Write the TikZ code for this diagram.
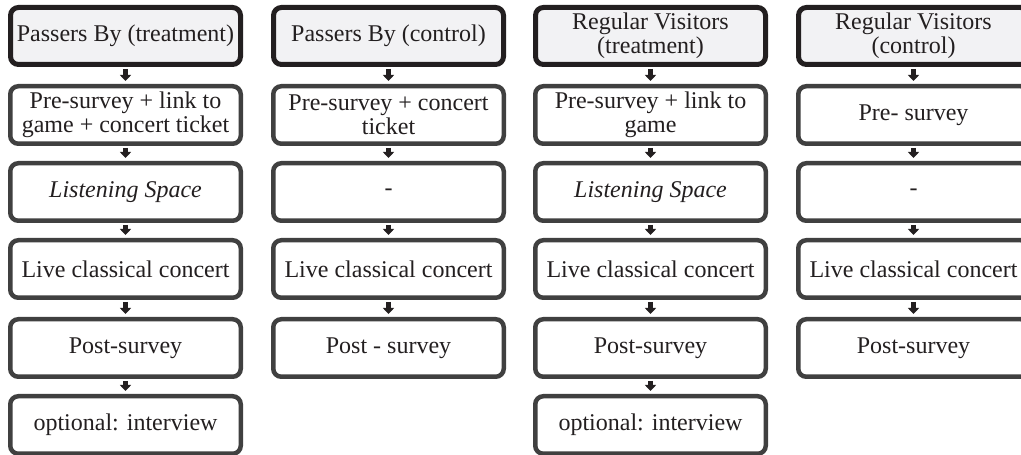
\documentclass[tikz,border=0pt]{standalone}
\usepackage{fontspec}
\setmainfont{Liberation Serif}
\usetikzlibrary{arrows.meta}
\definecolor{boxgray}{HTML}{404040}
\definecolor{headblack}{HTML}{231F20}
\definecolor{headfill}{HTML}{F2F2F4}
\definecolor{txt}{HTML}{231F20}
\begin{document}
\begin{tikzpicture}[x=1pt,y=1pt,
  box/.style={draw=boxgray, line width=4.5pt, rounded corners=8pt,
    minimum width=230.5pt, minimum height=57.5pt, align=center,
    font=\fontsize{24}{24}\selectfont, text=txt, fill=white, inner sep=0pt},
  headbox/.style={box, draw=headblack, line width=5pt, fill=headfill,
    minimum width=230pt, minimum height=57pt},
  flow/.style={draw=headblack, line width=5pt,
    -{Triangle[width=11pt,length=6pt]}}
]
\useasboundingbox (0,0) rectangle (1021,455);
% column centres: 125.5, 388.5, 650.5, 913.5 ; row centres (from top): 36,114,192,269,348,425
% Column 1
\node[headbox] (a1) at (125.5,419) {Passers By (treatment)};
\node[box] (a2) at (125.5,340) {Pre-survey + link to\\game + concert ticket};
\node[box] (a3) at (125.5,263) {\itshape Listening Space};
\node[box] (a4) at (125.5,186) {Live classical concert};
\node[box] (a5) at (125.5,107) {Post-survey};
\node[box] (a6) at (125.5,30) {optional: interview};
% Column 2
\node[headbox] (b1) at (388.5,419) {Passers By (control)};
\node[box] (b2) at (388.5,340) {Pre-survey + concert\\ticket};
\node[box] (b3) at (388.5,263) {-};
\node[box] (b4) at (388.5,186) {Live classical concert};
\node[box] (b5) at (388.5,107) {Post - survey};
% Column 3
\node[headbox] (c1) at (650.5,419) {Regular Visitors\\(treatment)};
\node[box] (c2) at (650.5,340) {Pre-survey + link to\\game};
\node[box] (c3) at (650.5,263) {\itshape Listening Space};
\node[box] (c4) at (650.5,186) {Live classical concert};
\node[box] (c5) at (650.5,107) {Post-survey};
\node[box] (c6) at (650.5,30) {optional: interview};
% Column 4
\node[headbox] (d1) at (913.5,419) {Regular Visitors\\(control)};
\node[box] (d2) at (913.5,340) {Pre- survey};
\node[box] (d3) at (913.5,263) {-};
\node[box] (d4) at (913.5,186) {Live classical concert};
\node[box] (d5) at (913.5,107) {Post-survey};
% arrows
\foreach \c/\n in {a/6,b/5,c/6,d/5}{
  \pgfmathtruncatemacro{\last}{\n-1}
  \foreach \i in {1,...,\last}{
    \pgfmathtruncatemacro{\j}{\i+1}
    \draw[flow] ([yshift=-2pt]\c\i.south) -- ([yshift=3pt]\c\j.north);
  }
}
\end{tikzpicture}
\end{document}
